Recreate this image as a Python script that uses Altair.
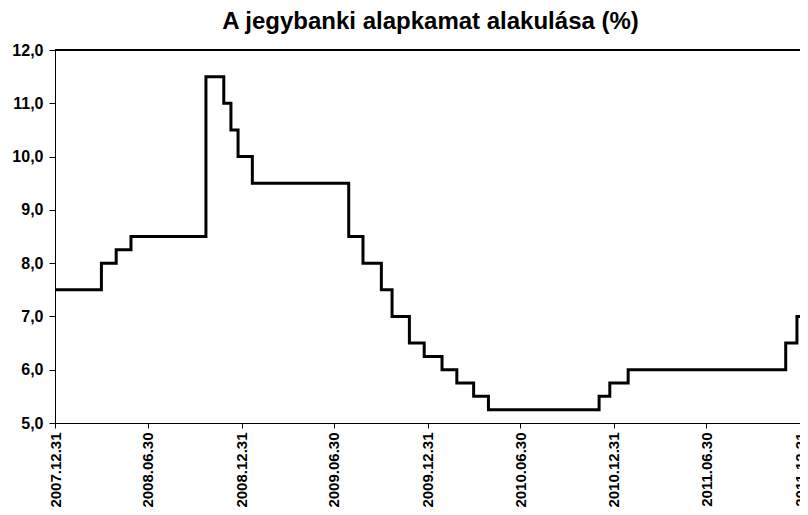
import altair as alt
import pandas as pd

# Step changes of the central bank base rate
dates = ["2007-12-31", "2008-03-31", "2008-04-29", "2008-05-28", "2008-10-22",
         "2008-11-26", "2008-12-10", "2008-12-24", "2009-01-21", "2009-07-29",
         "2009-08-26", "2009-10-01", "2009-10-22", "2009-11-25", "2009-12-24",
         "2010-01-28", "2010-02-26", "2010-03-31", "2010-04-29", "2010-12-02",
         "2010-12-23", "2011-01-28", "2011-12-03", "2011-12-25", "2011-12-31"]
rates = [7.5, 8.0, 8.25, 8.5, 11.5,
         11.0, 10.5, 10.0, 9.5, 8.5,
         8.0, 7.5, 7.0, 6.5, 6.25,
         6.0, 5.75, 5.5, 5.25, 5.5,
         5.75, 6.0, 6.5, 7.0, 7.0]

tick_dates = [(2007, 12, 31), (2008, 6, 30), (2008, 12, 31), (2009, 6, 30),
              (2009, 12, 31), (2010, 6, 30), (2010, 12, 31), (2011, 6, 30),
              (2011, 12, 31)]
y_ticks = [5, 6, 7, 8, 9, 10, 11, 12]
title_text = "A jegybanki alapkamat alakulása (%)"

df = pd.DataFrame({"date": dates, "rate": rates})

FONT = "Liberation Sans"
W, H = 745, 373

x_vals = [alt.DateTime(year=y, month=m, date=d, utc=True) for (y, m, d) in tick_dates]

line = alt.Chart(df).mark_line(
    interpolate="step-after", color="black", strokeWidth=3
).encode(
    x=alt.X(
        "date:T",
        scale=alt.Scale(
            type="utc",
            domain=[alt.DateTime(year=2007, month=12, date=31, utc=True),
                    alt.DateTime(year=2011, month=12, date=31, utc=True)],
        ),
        axis=alt.Axis(
            title=None,
            values=x_vals,
            labelExpr="utcFormat(datum.value, '%Y.%m.%d')",
            labelAngle=-90,
            labelFont=FONT,
            labelFontWeight="bold",
            labelFontSize=15,
            labelColor="black",
            labelPadding=4,
            labelOverlap=False,
            labelFlush=False,
            tickColor="black",
            tickSize=5,
            domainColor="black",
            domainWidth=1,
            grid=False,
        ),
    ),
    y=alt.Y(
        "rate:Q",
        scale=alt.Scale(domain=[5, 12], nice=False, zero=False),
        axis=alt.Axis(
            title=None,
            values=y_ticks,
            labelExpr="replace(format(datum.value, '.1f'), '.', ',')",
            labelFont=FONT,
            labelFontWeight="bold",
            labelFontSize=16,
            labelColor="black",
            labelPadding=6,
            tickColor="black",
            tickSize=6,
            domainColor="black",
            domainWidth=1,
            grid=False,
        ),
    ),
)

# top frame line of the plot area
top_frame = alt.Chart(df).mark_rule(color="black", strokeWidth=1).encode(
    x=alt.value(0), x2=alt.value(W), y=alt.value(0)
)

chart = alt.layer(line, top_frame).properties(
    width=W,
    height=H,
    title=alt.TitleParams(
        text=title_text,
        font=FONT,
        fontSize=24,
        fontWeight="bold",
        color="black",
        anchor="middle",
        offset=8,
        dx=3,
    ),
    autosize=alt.AutoSizeParams(type="none"),
    padding={"left": 47, "top": 42, "right": 0, "bottom": 84},
).configure(
    background="white"
).configure_view(
    strokeWidth=0
)

chart.save("out.html", embed_options={"renderer": "svg", "actions": False})
